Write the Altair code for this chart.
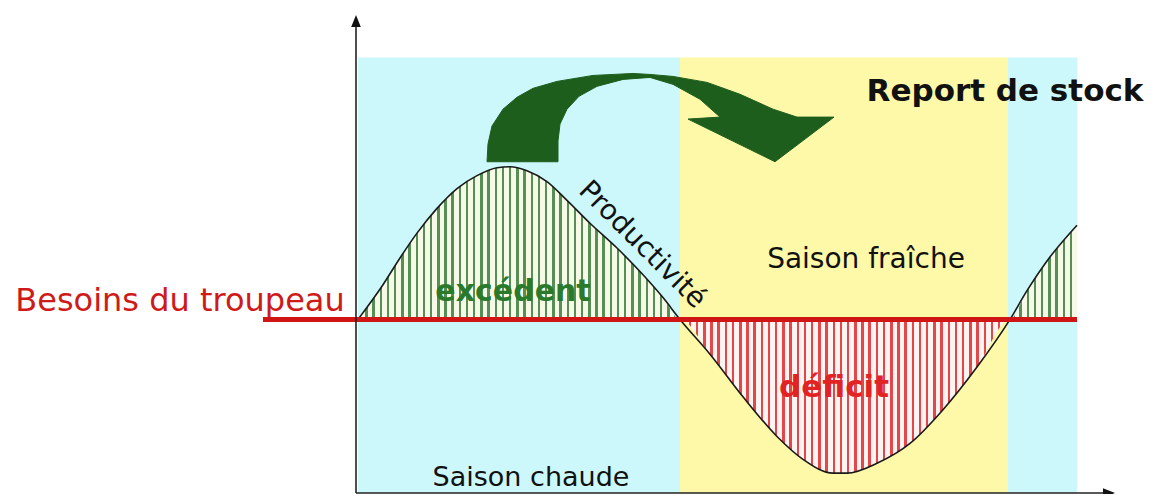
import altair as alt
import pandas as pd

# ---------------- data (arbitrary units: x = time of year, y = level) -------------
curve_x = [1, 26, 43, 60, 80, 100, 120, 140, 153, 170, 190, 210, 233, 260, 286, 306,
           323, 353, 386, 420, 446, 476, 490, 520, 553, 586, 620, 653, 670, 690, 720]
curve_y = [175, 210, 237, 262, 287, 307, 320, 328, 329, 325, 314, 295, 272, 247, 220, 197,
           175, 140, 97, 57, 34, 20, 20, 30, 50, 84, 127, 175, 204, 234, 270]

besoins_level = 175
besoins_x = [-94, 720]

season_names = ["Saison chaude", "Saison fraîche", "Saison chaude (2)"]
season_kind = ["chaude", "fraiche", "chaude"]
season_start = [1, 323, 651]
season_end = [323, 651, 720]
season_top = 439

axis_x_range = [-1, 758]
axis_y_range = [0, 482]

arrow_x = [130, 131, 135, 146, 160, 176, 200, 236, 276, 293, 316, 350, 383, 416, 440, 477, 418,
           331, 363, 343, 316, 293, 266, 240, 222, 210, 203, 201, 201]
arrow_y = [334, 352, 370, 387, 399, 408, 415, 421, 423, 422, 420, 414, 402, 387, 379, 379, 334,
           377, 379, 397, 412, 419, 417, 410, 400, 387, 372, 355, 334]

label_report = ["Report de stock"]
label_prod = ["Productivité"]
label_exc = ["excédent"]
label_fraiche = ["Saison fraîche"]
label_def = ["déficit"]
label_chaude = ["Saison chaude"]
label_besoins = ["Besoins du troupeau"]

# ---------------- tables ----------------
curve_df = pd.DataFrame({"x": curve_x, "y": curve_y})
season_df = pd.DataFrame({"name": season_names, "kind": season_kind,
                          "x0": season_start, "x1": season_end})
arrow_df = pd.DataFrame({"x": arrow_x, "y": arrow_y, "i": list(range(len(arrow_x)))})
besoins_df = pd.DataFrame({"x0": [besoins_x[0]], "x1": [besoins_x[1]], "y": [besoins_level]})

W, H = 1141, 486
XS = alt.Scale(domain=[-349, 792], nice=False, zero=False)
YS = alt.Scale(domain=[-1, 489], nice=False, zero=False)
FONT = "DejaVu Sans"


def X(v, **kw):
    if isinstance(v, str):
        return alt.X(v, type="quantitative", scale=XS, axis=None, **kw)
    return alt.X(datum=v, type="quantitative", scale=XS, axis=None)


def Y(v, **kw):
    if isinstance(v, str):
        return alt.Y(v, type="quantitative", scale=YS, axis=None, **kw)
    return alt.Y(datum=v, type="quantitative", scale=YS, axis=None)


def stripes(base, line, n=100, w=0.34):
    stops = []
    for i in range(n):
        a = round(i / n, 5)
        b = round((i + w) / n, 5)
        c = round((i + 1) / n, 5)
        stops += [alt.GradientStop(offset=a, color=line),
                  alt.GradientStop(offset=b, color=line),
                  alt.GradientStop(offset=b, color=base),
                  alt.GradientStop(offset=c, color=base)]
    return alt.LinearGradient(gradient="linear", stops=stops, x1=0, x2=1, y1=0, y2=0)


# backgrounds
bg = alt.Chart(season_df).mark_rect().encode(
    x=X("x0"), x2="x1",
    y=Y(0), y2=alt.Y2(datum=season_top),
    color=alt.Color("kind:N", scale=alt.Scale(domain=["chaude", "fraiche"],
                                              range=["#cdf8fb", "#fdf9a8"]), legend=None),
)

# hatched areas
upper = alt.Chart(curve_df).transform_calculate(
    top=f"max(datum.y, {besoins_level})"
).mark_area(interpolate="monotone", color=stripes("#f5f9e6", "#558f55")).encode(
    x=X("x"), y=Y("top"), y2=alt.Y2(datum=besoins_level)
)
lower = alt.Chart(curve_df).transform_calculate(
    bot=f"min(datum.y, {besoins_level})"
).mark_area(interpolate="monotone", color=stripes("#fdf3f1", "#e2474b")).encode(
    x=X("x"), y=Y("bot"), y2=alt.Y2(datum=besoins_level)
)

curve = alt.Chart(curve_df).mark_line(interpolate="monotone", color="#1a1a1a",
                                      strokeWidth=1.6).encode(x=X("x"), y=Y("y"))

red_line = alt.Chart(besoins_df).mark_rule(color="#d01515", strokeWidth=5).encode(
    x=X("x0"), x2="x1", y=Y("y"))

# axes
v_axis = alt.Chart(pd.DataFrame({"a": [0]})).mark_rule(color="#222", strokeWidth=1.6).encode(
    x=X(axis_x_range[0]), y=Y(axis_y_range[0]), y2=alt.Y2(datum=axis_y_range[1] - 6))
h_axis = alt.Chart(pd.DataFrame({"a": [0]})).mark_rule(color="#222", strokeWidth=1.6).encode(
    x=X(axis_x_range[0]), x2=alt.X2(datum=axis_x_range[1] - 6), y=Y(axis_y_range[0]))
v_head = alt.Chart(pd.DataFrame({"a": [0]})).mark_point(
    shape="M0,-1L0.8,1L-0.8,1Z", filled=True, size=144, color="#111", opacity=1).encode(
    x=X(axis_x_range[0]), y=Y(axis_y_range[1] - 6))
h_head = alt.Chart(pd.DataFrame({"a": [0]})).mark_point(
    shape="M1,0L-1,-0.8L-1,0.8Z", filled=True, size=144, color="#111", opacity=1).encode(
    x=X(axis_x_range[1] - 6), y=Y(axis_y_range[0]))

# big curved arrow
arrow = alt.Chart(arrow_df).mark_line(fill="#1d5e1d", stroke="#1d5e1d", strokeWidth=1,
                                      interpolate="linear-closed").encode(
    x=X("x"), y=Y("y"), order="i:Q")


def label(txt, x, y, size, color="#111", weight="normal", angle=0, baseline="alphabetic"):
    return alt.Chart(pd.DataFrame({"t": txt})).mark_text(
        font=FONT, fontSize=size, color=color, fontWeight=weight, angle=angle,
        align="center", baseline=baseline).encode(x=X(x), y=Y(y), text="t:N")


texts = [
    label(label_report, 648, 395, 31, "#111", "bold"),
    label(label_prod, 285, 250, 28, "#111", "normal", 45, "middle"),
    label(label_exc, 156, 194, 30, "#2b7a2b", "bold"),
    label(label_fraiche, 509, 227, 28),
    label(label_def, 477, 97, 31, "#e22323", "bold"),
    label(label_chaude, 174, 7, 27),
    label(label_besoins, -177, 184, 32, "#cf1a1a"),
]

chart = alt.layer(bg, upper, lower, curve, red_line, v_axis, h_axis, v_head, h_head,
                  arrow, *texts).properties(
    width=W, height=H, padding=0, autosize="none", background="white"
).configure_view(stroke=None)

chart.save("out.html", embed_options={"renderer": "svg", "actions": False})
